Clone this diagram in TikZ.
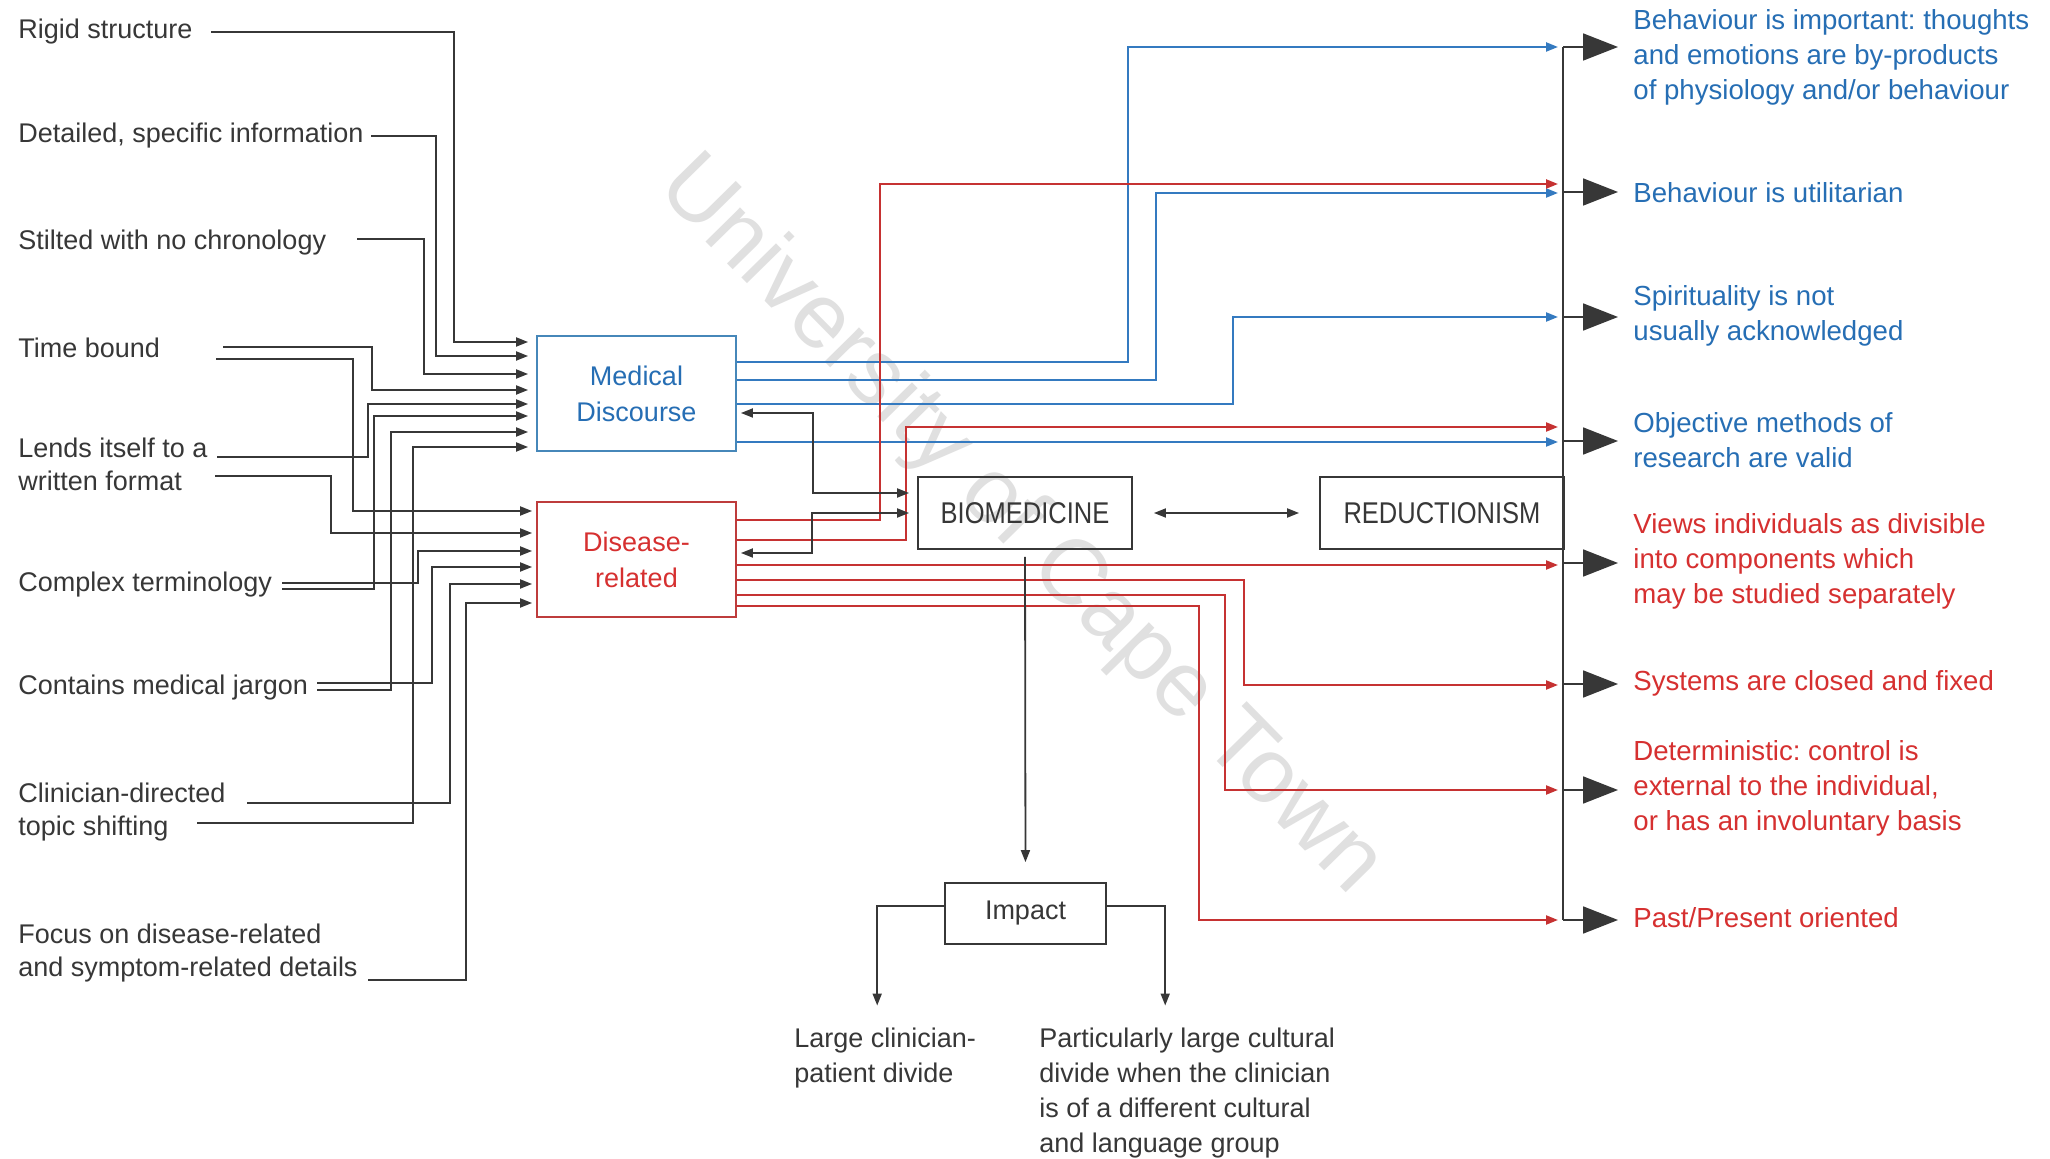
\documentclass[tikz,border=0pt]{standalone}
\usepackage{fontspec}
\setmainfont{Liberation Sans}
\newfontfamily\narrowfont[FakeStretch=0.85]{Liberation Sans}
\usetikzlibrary{arrows.meta,calc}
\frenchspacing
\definecolor{dk}{RGB}{55,55,55}
\definecolor{blueT}{RGB}{38,110,180}
\definecolor{redT}{RGB}{214,48,48}
\definecolor{blueL}{RGB}{52,122,192}
\definecolor{redL}{RGB}{198,50,50}
\definecolor{mdB}{RGB}{70,135,185}
\definecolor{drB}{RGB}{190,60,60}
\definecolor{wm}{RGB}{224,224,224}
\tikzset{
  lbl/.style={anchor=west, inner sep=0pt, align=left, text=dk, font=\fontsize{13.5}{16.5}\selectfont},
  rtb/.style={anchor=west, inner sep=0pt, align=left, text=blueT, font=\fontsize{13.8}{17.5}\selectfont},
  rtr/.style={rtb, text=redT},
  btxt/.style={anchor=west, inner sep=0pt, align=left, text=dk, font=\fontsize{13.5}{17.5}\selectfont},
  box/.style={draw, line width=0.9pt, align=center, inner sep=0pt, font=\fontsize{13.5}{18}\selectfont},
  wire/.style={dk, line width=0.9pt},
  win/.style={wire, -{Triangle[length=6pt,width=4.5pt]}},
  bwire/.style={blueL, line width=1.1pt, -{Triangle[length=6pt,width=4.5pt]}, shorten >=37.5pt},
  rwire/.style={redL, line width=1.1pt, -{Triangle[length=6pt,width=4.5pt]}, shorten >=37.5pt},
  bigarr/.style={dk, line width=0.9pt, -{Triangle[length=17.5pt,width=13.5pt]}, shorten >=7.5pt},
  dbl/.style={wire, {Triangle[length=6pt,width=4.5pt]}-{Triangle[length=6pt,width=4.5pt]}},
}
\begin{document}
\begin{tikzpicture}[x=0.5pt,y=-0.5pt]
\useasboundingbox (0,0) rectangle (2050,1159);
\fill[white] (0,0) rectangle (2050,1159);

% watermark
\node[rotate=-45.5, text=wm, inner sep=0pt, font=\fontsize{46}{46}\selectfont] (wmark) at (1020,527) {University of Cape Town};

% left labels
\node[lbl] (rigid) at (18,32) {Rigid structure};
\node[lbl] (detail) at (18,136) {Detailed, specific information};
\node[lbl] (stilt) at (18,243) {Stilted with no chronology};
\node[lbl] (timeb) at (18,348) {Time bound};
\node[lbl] (lends) at (18,464) {Lends itself to a\\written format};
\node[lbl] (complex) at (18,585) {Complex terminology};
\node[lbl] (contains) at (18,688) {Contains medical jargon};
\node[lbl] (clin) at (18,812) {Clinician-directed\\topic shifting};
\node[lbl] (focus) at (18,953) {Focus on disease-related\\and symptom-related details};

% boxes
\node[box, draw=mdB, text=blueT, minimum width=99.5pt, minimum height=57.5pt] (MD) at (636.5,393.5) {Medical\\Discourse};
\node[box, draw=drB, text=redT, minimum width=99.5pt, minimum height=57.5pt] (DR) at (636.5,559.5) {Disease-\\related};
\node[box, draw=dk, text=dk, minimum width=107pt, minimum height=36pt, font=\narrowfont\fontsize{15}{18}\selectfont] (BIO) at (1025,513) {BIOMEDICINE};
\node[box, draw=dk, text=dk, minimum width=122pt, minimum height=36pt, font=\narrowfont\fontsize{15}{18}\selectfont] (RED) at (1442,513) {REDUCTIONISM};
\node[box, draw=dk, text=dk, minimum width=80.5pt, minimum height=30.5pt] (IMP) at (1025.5,913.5) {Impact};

% bottom texts
\node[btxt] (large) at (794,1058) {Large clinician-\\patient divide};
\node[btxt] (part) at (1039,1093) {Particularly large cultural\\divide when the clinician\\is of a different cultural\\and language group};

% right texts
\node[rtb] (t1) at (1633,57) {Behaviour is important: thoughts\\and emotions are by-products\\of physiology and/or behaviour};
\node[rtb] (t2) at (1633,193) {Behaviour is utilitarian};
\node[rtb] (t3) at (1633,316) {Spirituality is not\\usually acknowledged};
\node[rtb] (t4) at (1633,440) {Objective methods of\\research are valid};
\node[rtr] (t5) at (1633,561) {Views individuals as divisible\\into components which\\may be studied separately};
\node[rtr] (t6) at (1633,683) {Systems are closed and fixed};
\node[rtr] (t7) at (1633,788) {Deterministic: control is\\external to the individual,\\or has an involuntary basis};
\node[rtr] (t8) at (1633,918) {Past/Present oriented};

% start points of left connectors
\coordinate (s1) at (211,32);
\coordinate (s2) at (371,136);
\coordinate (s3) at (357,239);
\coordinate (s4) at (223,347);
\coordinate (s5) at (216,359);
\coordinate (s6) at (217,457);
\coordinate (s7) at (215,476);
\coordinate (s8) at (282,583);
\coordinate (s9) at (282,589);
\coordinate (s10) at (317,683);
\coordinate (s11) at (317,690);
\coordinate (s12) at (247,803);
\coordinate (s13) at (197,823);
\coordinate (s14) at (368,980);

% left connectors into Medical Discourse
\draw[win, shorten >=4pt] (s1) -| (454,342) -- (MD.west|-0,342);
\draw[win, shorten >=4pt] (s2) -| (436,356) -- (MD.west|-0,356);
\draw[win, shorten >=4pt] (s3) -| (424,374) -- (MD.west|-0,374);
\draw[win, shorten >=4pt] (s4) -| (372,390) -- (MD.west|-0,390);
\draw[win, shorten >=4pt] (s6) -| (368,404) -- (MD.west|-0,404);
\draw[win, shorten >=4pt] (s9) -| (374,416) -- (MD.west|-0,416);
\draw[win, shorten >=4pt] (s11) -| (391,432) -- (MD.west|-0,432);
\draw[win, shorten >=4pt] (s13) -| (413,447) -- (MD.west|-0,447);
% left connectors into Disease-related
\draw[win, shorten >=2pt] (s5) -| (353,511) -- (DR.west|-0,511);
\draw[win, shorten >=2pt] (s7) -| (331,533) -- (DR.west|-0,533);
\draw[win, shorten >=2pt] (s8) -| (418,551) -- (DR.west|-0,551);
\draw[win, shorten >=2pt] (s10) -| (432,567) -- (DR.west|-0,567);
\draw[win, shorten >=2pt] (s12) -| (450,584) -- (DR.west|-0,584);
\draw[win, shorten >=2pt] (s14) -| (466,603) -- (DR.west|-0,603);

% blue connectors
\draw[bwire] (MD.east|-0,362) -| (1128,47) -- (t1.west|-0,47);
\draw[bwire] (MD.east|-0,380) -| (1156,193) -- (t2.west|-0,193);
\draw[bwire] (MD.east|-0,404) -| (1233,317) -- (t3.west|-0,317);
\draw[bwire] (MD.east|-0,442) -- (t4.west|-0,442);
% red connectors
\draw[rwire] (DR.east|-0,520) -| (880,184) -- (t2.west|-0,184);
\draw[rwire] (DR.east|-0,540) -| (906,427) -- (t4.west|-0,427);
\draw[rwire] (DR.east|-0,565) -- (t5.west|-0,565);
\draw[rwire] (DR.east|-0,580) -| (1244,685) -- (t6.west|-0,685);
\draw[rwire] (DR.east|-0,595) -| (1225,790) -- (t7.west|-0,790);
\draw[rwire] (DR.east|-0,606) -| (1199,920) -- (t8.west|-0,920);

% Biomedicine links
\draw[dbl, shorten <=2pt, shorten >=4pt] (MD.east|-0,413) -| (813,493) -- (BIO.west|-0,493);
\draw[dbl, shorten <=2pt, shorten >=4pt] (DR.east|-0,553) -| (812,513) -- (BIO.west|-0,513);
\draw[dbl, shorten <=10.5pt, shorten >=10pt] (BIO.east) -- (RED.west);
\draw[win, shorten <=3.5pt, shorten >=10pt] (BIO.south) -- (IMP.north);

% impact branches
\draw[win, shorten >=11pt] (IMP.west|-0,906) -| ([xshift=-4pt]large.north);
\draw[win, shorten >=11pt] (IMP.east|-0,906) -| ([xshift=-11pt]part.north);

% right collector line and big arrows
\draw[wire] (1563,47) -- (1563,920);
\draw[bigarr] (1563,47) -- (t1.west|-0,47);
\draw[bigarr] (1563,192) -- (t2.west|-0,192);
\draw[bigarr] (1563,317) -- (t3.west|-0,317);
\draw[bigarr] (1563,441) -- (t4.west|-0,441);
\draw[bigarr] (1563,563) -- (t5.west|-0,563);
\draw[bigarr] (1563,684) -- (t6.west|-0,684);
\draw[bigarr] (1563,790) -- (t7.west|-0,790);
\draw[bigarr] (1563,920) -- (t8.west|-0,920);
\end{tikzpicture}
\end{document}
